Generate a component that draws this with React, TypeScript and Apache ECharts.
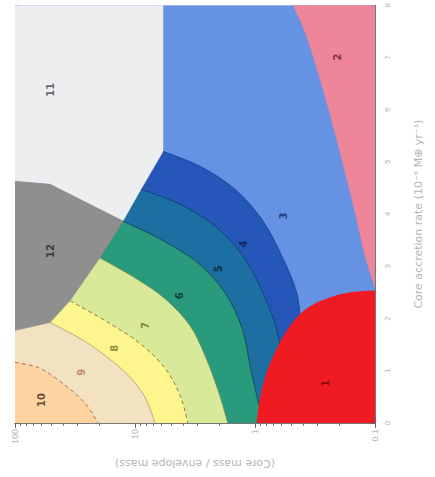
import React, { useEffect, useRef } from "react";
import * as echarts from "echarts";

// ---- axis ticks ----
const X_TICKS = [100, 10, 1, 0.1];
const Y_MIN = 0;
const Y_MAX = 8;

// ---- region boundaries (x: core/envelope mass ratio, y: axis value) ----
const B_11_EDGE = [[5.84, 8], [5.84, 5.2], [8.91, 4.476], [12.6, 3.867]];
const B_12_TOP = [[12.6, 3.867], [51, 4.571], [100, 4.629]];
const B_12_BOTTOM = [[12.6, 3.867], [19.6, 3.162], [34.8, 2.343], [51, 1.924], [100, 1.771]];
const B_2_3 = [[0.482, 8], [0.383, 7.486], [0.299, 6.724], [0.228, 5.771], [0.178, 4.819], [0.144, 3.962], [0.121, 3.2], [0.1, 2.6]];
const B_3_4 = [[5.84, 5.2], [2.87, 4.914], [1.47, 4.476], [0.858, 3.867], [0.584, 3.143], [0.455, 2.533], [0.422, 2.057]];
const B_4_5 = [[8.91, 4.476], [4.22, 4.19], [2.15, 3.771], [1.26, 3.2], [0.874, 2.533], [0.695, 1.962], [0.619, 1.524]];
const B_5_6 = [[12.6, 3.867], [6.19, 3.524], [2.99, 3.067], [1.78, 2.495], [1.28, 1.81], [1.08, 1.01], [0.926, 0.343]];
const B_6_7 = [[19.6, 3.162], [10, 2.781], [5.62, 2.381], [3.48, 1.867], [2.61, 1.295], [2.03, 0.629], [1.68, 0]];
const B_7_8 = [[34.8, 2.343], [16.2, 1.905], [9.09, 1.524], [5.62, 1.048], [4.22, 0.533], [3.62, 0]];
const B_8_9 = [[51, 1.924], [28.7, 1.619], [17.8, 1.295], [11.4, 0.914], [8.25, 0.495], [6.81, 0]];
const B_9_10 = [[100, 1.162], [61.9, 1.048], [38.3, 0.724], [26.1, 0.381], [20.3, 0]];
const B_1 = [[0.1, 2.533], [0.162, 2.495], [0.237, 2.4], [0.335, 2.248], [0.447, 2.019], [0.573, 1.676], [0.708, 1.257], [0.809, 0.914], [0.909, 0.438], [0.962, 0]];

// ---- region labels ----
const LABELS = [
  [0.261, 0.762, "1"],
  [0.207, 7.01, "2"],
  [0.584, 3.962, "3"],
  [1.24, 3.429, "4"],
  [2.03, 2.952, "5"],
  [4.22, 2.438, "6"],
  [8.25, 1.867, "7"],
  [14.7, 1.429, "8"],
  [27.7, 0.971, "9"],
  [59.6, 0.438, "10"],
  [51, 6.381, "11"],
  [51, 3.295, "12"],
];
const LABEL_COLORS: Record<string, string> = {
  "1": "#6a0a10", "2": "#5a1a28", "3": "#102a60", "4": "#0a1a40", "5": "#062030",
  "6": "#0a2a20", "7": "#6a6a20", "8": "#7a7020", "9": "#b87058", "10": "#3a2a18",
  "11": "#444", "12": "#222",
};

const X_AXIS_TITLE = "(Core mass / envelope mass)";
const Y_AXIS_TITLE = "Core accretion rate (10⁻⁶ M⊕ yr⁻¹)";

// polygons: a curved boundary (smoothed) followed by straight closing corners; drawn in order
const POLYGONS: { fill: string; curve: number[][]; corners: number[][]; smooth: boolean }[] = [
  { fill: "#6592e2", curve: [[100, 8], [0.1, 8]], corners: [[0.1, 0], [100, 0]], smooth: false },
  { fill: "#ef8599", curve: B_2_3, corners: [[0.1, 8]], smooth: true },
  { fill: "#2457b7", curve: B_3_4, corners: [[0.422, 0], [100, 0], [100, 5.2]], smooth: true },
  { fill: "#1c6fa0", curve: B_4_5, corners: [[0.619, 0], [100, 0], [100, 4.476]], smooth: true },
  { fill: "#2a9a7c", curve: B_5_6, corners: [[0.926, 0], [100, 0], [100, 3.867]], smooth: true },
  { fill: "#d8e99a", curve: B_6_7, corners: [[100, 0], [100, 3.162]], smooth: true },
  { fill: "#fdf68e", curve: B_7_8, corners: [[100, 0], [100, 2.343]], smooth: true },
  { fill: "#f2e2c2", curve: B_8_9, corners: [[100, 0], [100, 1.924]], smooth: true },
  { fill: "#fdd3a0", curve: B_9_10, corners: [[100, 0]], smooth: true },
  { fill: "#eceef0", curve: [...B_11_EDGE, ...B_12_TOP.slice(1)], corners: [[100, 8]], smooth: false },
  { fill: "#8f8f8f", curve: [...B_12_TOP, ...B_12_BOTTOM.slice().reverse()], corners: [], smooth: false },
  { fill: "#ef1a22", curve: B_1, corners: [[0.1, 0]], smooth: true },
];

const LINES: { pts: number[][]; color: string; dash?: number[]; width: number }[] = [
  { pts: B_3_4, color: "#1d4a9a", width: 1 },
  { pts: B_4_5, color: "#163f80", width: 1 },
  { pts: B_5_6, color: "#124a5a", width: 1 },
  { pts: B_6_7, color: "#3d7a50", width: 0.8 },
  { pts: B_7_8, color: "#8a7a3a", width: 1, dash: [4, 3] },
  { pts: B_8_9, color: "#b0a060", width: 0.8 },
  { pts: B_9_10, color: "#b87058", width: 1, dash: [4, 3] },
];

function curvePath(p: number[][], smooth: boolean): string {
  let d = `M${p[0][0]},${p[0][1]}`;
  for (let i = 0; i < p.length - 1; i++) {
    if (!smooth) {
      d += ` L${p[i + 1][0]},${p[i + 1][1]}`;
      continue;
    }
    const p0 = p[Math.max(0, i - 1)];
    const p1 = p[i];
    const p2 = p[i + 1];
    const p3 = p[Math.min(p.length - 1, i + 2)];
    const c1x = p1[0] + (p2[0] - p0[0]) / 6;
    const c1y = p1[1] + (p2[1] - p0[1]) / 6;
    const c2x = p2[0] - (p3[0] - p1[0]) / 6;
    const c2y = p2[1] - (p3[1] - p1[1]) / 6;
    d += ` C${c1x},${c1y} ${c2x},${c2y} ${p2[0]},${p2[1]}`;
  }
  return d;
}

export default function App() {
  const ref = useRef<HTMLDivElement>(null);
  useEffect(() => {
    if (!ref.current) return;
    const chart = echarts.init(ref.current, null, { renderer: "svg" });
    const faint = "#b4b4b4";
    const xBase: any = {
      type: "log",
      logBase: 10,
      min: 0.1,
      max: 100,
      inverse: true,
      splitLine: { show: false },
      axisLine: { show: true, lineStyle: { color: "#777", width: 1 } },
      axisTick: { show: true, inside: true, length: 5, lineStyle: { color: "#666" } },
      minorTick: { show: true, splitNumber: 9, length: 3, lineStyle: { color: "#777" } },
    };
    chart.setOption({
      animation: false,
      backgroundColor: "#ffffff",
      grid: { left: 15, right: 60, top: 3, bottom: 54, containLabel: false },
      xAxis: [
        {
          ...xBase,
          position: "bottom",
          axisLabel: {
            rotate: 90,
            color: faint,
            fontSize: 9,
            margin: 6,
            formatter: (v: number) => (X_TICKS.some((t) => Math.abs(t - v) < 1e-9) ? String(v) : ""),
          },
          name: X_AXIS_TITLE,
          nameLocation: "middle",
          nameGap: 35,
          nameRotate: 180,
          nameTextStyle: { color: faint, fontSize: 11, fontFamily: "DejaVu Sans" },
        },
        { ...xBase, position: "top", axisLabel: { show: false } },
      ],
      yAxis: [
        {
          type: "value",
          min: Y_MIN,
          max: Y_MAX,
          interval: 1,
          position: "right",
          splitLine: { show: false },
          axisLine: { show: true, lineStyle: { color: "#777" } },
          axisTick: { inside: true, length: 4, lineStyle: { color: "#666" } },
          minorTick: { show: true, splitNumber: 5, length: 2, lineStyle: { color: "#777" } },
          axisLabel: { rotate: 90, color: faint, fontSize: 8, margin: 8 },
          name: Y_AXIS_TITLE,
          nameLocation: "middle",
          nameGap: 38,
          nameRotate: 90,
          nameTextStyle: { color: faint, fontSize: 11, fontFamily: "DejaVu Sans" },
        },
        {
          type: "value",
          min: Y_MIN,
          max: Y_MAX,
          interval: 1,
          position: "left",
          splitLine: { show: false },
          axisLine: { show: true, lineStyle: { color: "#777" } },
          axisTick: { inside: true, length: 4, lineStyle: { color: "#666" } },
          axisLabel: { show: false },
        },
      ],
      series: [
        {
          type: "custom",
          coordinateSystem: "cartesian2d",
          clip: true,
          data: POLYGONS.map((_, i) => i),
          renderItem: (params: any, api: any) => {
            const poly = POLYGONS[params.dataIndex];
            const cpts = poly.curve.map((p) => api.coord(p));
            let d = curvePath(cpts, poly.smooth);
            poly.corners.forEach((c) => {
              const q = api.coord(c);
              d += ` L${q[0]},${q[1]}`;
            });
            d += " Z";
            return {
              type: "path",
              shape: { pathData: d },
              style: { fill: poly.fill, stroke: poly.fill, lineWidth: 0.5 },
            };
          },
          z: 1,
        },
        {
          type: "custom",
          coordinateSystem: "cartesian2d",
          clip: true,
          data: LINES.map((_, i) => i),
          renderItem: (params: any, api: any) => {
            const l = LINES[params.dataIndex];
            return {
              type: "path",
              shape: { pathData: curvePath(l.pts.map((p) => api.coord(p)), true) },
              style: { fill: "none", stroke: l.color, lineWidth: l.width, lineDash: l.dash || null },
            };
          },
          z: 2,
        },
        {
          type: "custom",
          coordinateSystem: "cartesian2d",
          clip: true,
          data: [0],
          renderItem: (params: any, api: any) => {
            const q = api.coord([0.1, 0]);
            const d = curvePath(B_1.map((p) => api.coord(p)), true) + ` L${q[0]},${q[1]} Z`;
            return { type: "path", shape: { pathData: d }, style: { fill: "#ef1a22" } };
          },
          z: 3,
        },
        {
          type: "scatter",
          symbolSize: 0,
          data: LABELS.map((l) => ({
            value: [l[0], l[1]],
            name: l[2],
            label: { color: LABEL_COLORS[l[2] as string] },
          })),
          label: {
            show: true,
            position: "inside",
            rotate: 90,
            fontSize: 10,
            fontWeight: "bold",
            fontFamily: "DejaVu Sans",
            formatter: (p: any) => p.name,
          },
          z: 5,
        },
      ],
    });
    return () => chart.dispose();
  }, []);
  return (
    <div
      ref={ref}
      style={{ position: "fixed", left: 0, top: 0, width: 435, height: 477, background: "#fff" }}
    />
  );
}
